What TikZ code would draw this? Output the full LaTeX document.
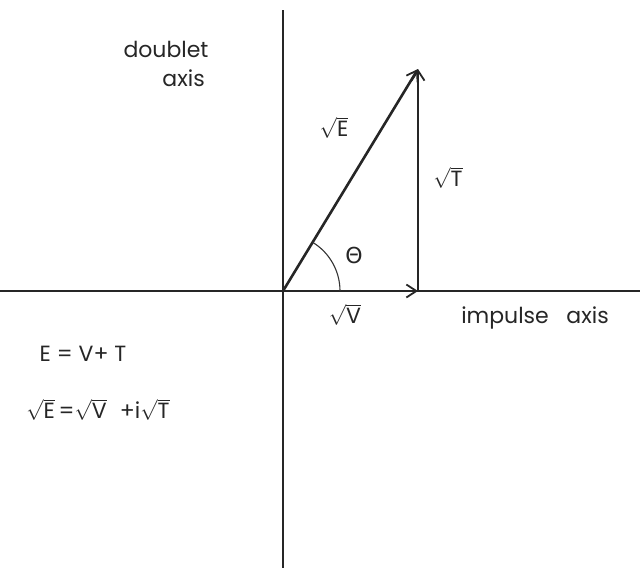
\documentclass[tikz,border=0pt]{standalone}
\usepackage{fontspec}
\setmainfont{Poppins}
\newfontfamily\greekfont{DejaVu Sans}
\usetikzlibrary{arrows.meta}
\newcommand{\rt}[1]{$\sqrt{\hbox{#1}}$}
\begin{document}
\begin{tikzpicture}[x=1pt,y=-1pt,
  axisline/.style={line width=1.4pt,black!85},
  vec/.style={line width=2.6pt,black!85,-{Straight Barb[length=10pt,width=13pt,line width=1.8pt]}},
  lbl/.style={font=\fontsize{22}{26}\selectfont,text=black!85,inner sep=0pt}]
\useasboundingbox (0,0) rectangle (640,568);
\coordinate (O) at (283,291);
\coordinate (top) at (283,10);
\coordinate (bot) at (283,568);
\coordinate (left) at (0,291);
\coordinate (right) at (640,291);
\coordinate (V) at (418,291);
\coordinate (E) at (418,69);
\draw[axisline] (top) -- (bot);
\draw[axisline] (left) -- (right);
\draw[vec] (O) -- (V);
\draw[vec] (V) -- (E);
\draw[vec] (O) -- (E);
\draw[line width=1.1pt,black!80] ([xshift=57pt]O) arc[start angle=0,end angle=58.8,radius=57pt];
\node[lbl] (doublet) at (166,49) {doublet};
\node[lbl,anchor=east] (axis1) at (205,78) {axis};
\node[lbl] (sqE) at (334,128) {\rt{E}};
\node[lbl] (theta) at (354,255) {\greekfont Θ};
\node[lbl] (sqT) at (448,178) {\rt{T}};
\node[lbl] (sqV) at (345,315) {\rt{V}};
\node[lbl] (imp) at (535,318) {impulse\hspace{0.8em}axis};
\node[lbl] (eq1) at (83,354) {E = V+ T};
\node[lbl] (eq2) at (98,410) {\rt{E}\,=\rt{V}\hspace{0.6em}+i\rt{T}};
\end{tikzpicture}
\end{document}
